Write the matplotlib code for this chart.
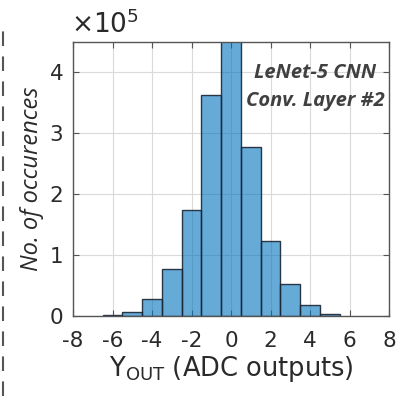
import matplotlib
matplotlib.use("Agg")
import matplotlib.pyplot as plt
from matplotlib.lines import Line2D

# Data (counts in units of 1e5), bins centred on integers
bin_centers = [-6, -5, -4, -3, -2, -1, 0, 1, 2, 3, 4, 5]
counts = [0.015, 0.07, 0.28, 0.77, 1.74, 3.63, 4.7, 2.78, 1.23, 0.52, 0.18, 0.04]
xticks = [-8, -6, -4, -2, 0, 2, 4, 6, 8]
yticks = [0, 1, 2, 3, 4]

fig = plt.figure(figsize=(3.98, 3.96), dpi=100)
ax = fig.add_axes([73/398, 1-316/396, 316/398, 274/396])

ax.grid(True, color='#dadada', linewidth=0.8)
ax.set_axisbelow(True)
ax.bar(bin_centers, counts, width=1.0, color=(0, 0.447, 0.741, 0.6),
       edgecolor=(0.1, 0.15, 0.2, 0.9), linewidth=1.0, zorder=2)

ax.set_xlim(-8, 8)
ax.set_ylim(0, 4.5)
ax.set_xticks(xticks)
ax.set_yticks(yticks)
ax.set_xticklabels([str(t) for t in xticks])
ax.tick_params(direction='in', top=True, right=True, labelsize=15.5,
               colors='#555555', labelcolor='#2a2a2a', length=4)
ax.tick_params(axis='x', pad=11)
ax.tick_params(axis='y', pad=7)
for s in ax.spines.values():
    s.set_color('#555555')
    s.set_linewidth(1.0)

ax.text(-0.005, 1.01, r'$\times\mathregular{10^5}$', transform=ax.transAxes,
        fontsize=19, color='#2a2a2a', ha='left', va='bottom')

ax.set_xlabel(r'$\mathregular{Y_{OUT}}$ (ADC outputs)', fontsize=18.5,
              color='#2a2a2a', labelpad=2)
ax.set_ylabel('No. of occurences', fontsize=17, fontstyle='italic',
              family='Open Sans', color='#2a2a2a', labelpad=4)

ax.text(0.766, 0.923, 'LeNet-5 CNN\nConv. Layer #2', transform=ax.transAxes,
        ha='center', va='top', multialignment='center', fontsize=14.5,
        fontweight='bold', fontstyle='italic',
        family='Open Sans', color='#404040', linespacing=1.5)

# dashed separator on the left edge of the figure
fig.add_artist(Line2D([3/398, 3/398], [0, 1-25/396], transform=fig.transFigure,
                      color='#555555', linewidth=1.5, linestyle=(0, (7, 5))))

fig.savefig('out.png', dpi=100)
